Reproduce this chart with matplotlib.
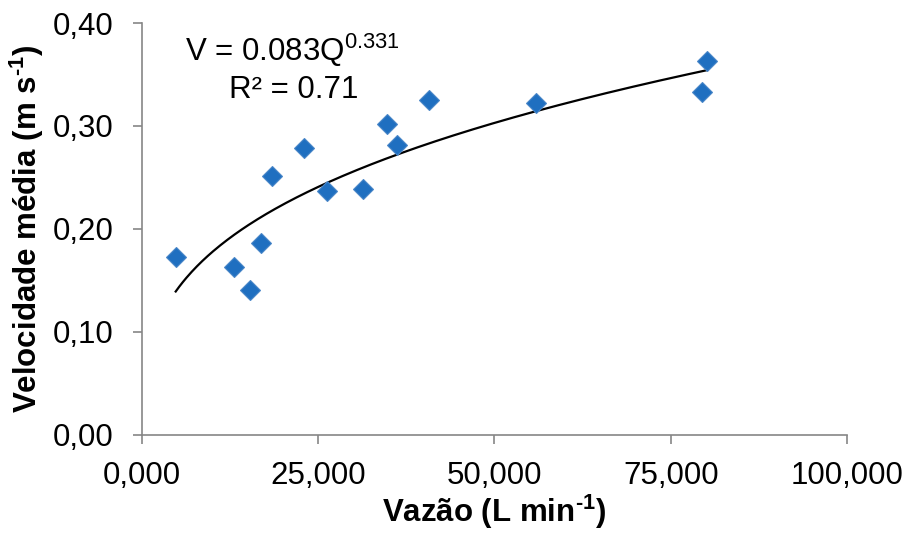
import numpy as np
from matplotlib import pyplot as plt

plt.rcParams['font.family'] = ['Liberation Sans', 'DejaVu Sans']
plt.rcParams['mathtext.fontset'] = 'custom'
plt.rcParams['mathtext.rm'] = 'Liberation Sans'
plt.rcParams['mathtext.bf'] = 'Liberation Sans:bold'

# flow (L/min, decimal comma in labels) and mean velocity (m/s)
vazao = [4.78, 13.0, 15.3, 16.9, 18.4, 23.0, 26.2, 31.3, 34.7, 36.2, 40.7, 55.9, 80.2, 79.4]
velocidade = [0.173, 0.163, 0.141, 0.186, 0.251, 0.279, 0.237, 0.239, 0.302, 0.282, 0.325, 0.322, 0.363, 0.333]

# power trend line V = a*Q^b
a_coef = 0.083
b_coef = 0.331

x_ticks = [0, 25, 50, 75, 100]
x_labels = ['0,000', '25,000', '50,000', '75,000', '100,000']
y_ticks = [0.0, 0.1, 0.2, 0.3, 0.4]
y_labels = ['0,00', '0,10', '0,20', '0,30', '0,40']

fs = 22.5

fig = plt.figure(figsize=(9.08, 5.35), dpi=100)
ax = fig.add_axes([0.1564, 0.187, 0.7764, 0.770])

ax.plot(vazao, velocidade, linestyle='none', marker='D', markersize=10,
        color='#1f6fc0', markeredgecolor='#4a86c8', markeredgewidth=0.8, zorder=3)

q = np.linspace(min(vazao), max(vazao), 300)
ax.plot(q, a_coef*q**b_coef, color='black', lw=1.6, zorder=2)

ax.set_xlim(0, 100)
ax.set_ylim(0, 0.4)
ax.set_xticks(x_ticks)
ax.set_xticklabels(x_labels)
ax.set_yticks(y_ticks)
ax.set_yticklabels(y_labels)

for s in ['top', 'right']:
    ax.spines[s].set_visible(False)
for s in ['left', 'bottom']:
    ax.spines[s].set_color('#868686')
    ax.spines[s].set_linewidth(1.2)
ax.tick_params(axis='both', colors='#868686', labelcolor='black', labelsize=fs,
               length=6.5, width=1.2, direction='out')
ax.tick_params(axis='x', pad=12.5)
ax.tick_params(axis='y', pad=14)

ax.set_xlabel('Vazão (L min$^{\\mathbf{\u20101}}$)', fontsize=fs, fontweight='bold', labelpad=1)
ax.set_ylabel('Velocidade média (m s$^{\\mathbf{\u20101}}$)', fontsize=fs, fontweight='bold', labelpad=5)

ax.text(6.1, 0.363, r'V = 0.083Q$^{0.331}$', fontsize=fs)
ax.text(12.4, 0.327, 'R² = 0.71', fontsize=fs)

fig.savefig('out.png', dpi=100)
